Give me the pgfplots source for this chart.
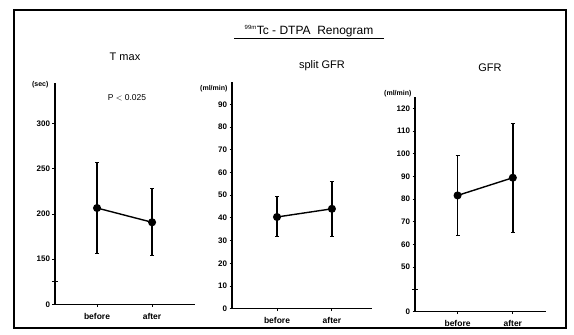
\documentclass[border=0pt]{standalone}
\usepackage{pgfplots}
\pgfplotsset{compat=1.18}
\usepackage{fontspec}
\setmainfont{Liberation Sans}
\pgfplotsset{
  panel/.style={
    scale only axis, anchor=south west, clip=false,
    /pgf/number format/assume math mode=true,
    axis lines=left, axis line style={-, line width=1.1pt},
    tick style={black, line width=0.9pt}, tick align=outside, major tick length=2.5pt,
    xtick={1,2}, xticklabels={before,after},
    xticklabel style={font=\fontsize{8.5}{10}\selectfont\bfseries, yshift=-3pt},
    yticklabel style={font=\fontsize{8}{9}\selectfont\bfseries, xshift=1pt},
    extra y tick style={tick align=center, major tick length=6pt, tick style={line width=1.2pt}},
  },
  series/.style={black, line width=1.4pt, mark=*, mark size=3.3pt,
    error bars/.cd, y dir=both, y explicit,
    error bar style={line width=1.8pt},
    error mark options={rotate=90, mark size=2pt, line width=1pt}},
}
\begin{document}
\begin{tikzpicture}
\useasboundingbox (0pt,0pt) rectangle (574pt,335pt);
\draw[line width=1.2pt] (14pt,7pt) -- (566pt,7pt) -- (566pt,325pt) -- (14pt,325pt) -- cycle;
\node[font=\fontsize{12}{14}\selectfont] at (309pt,304pt) {\textsuperscript{\fontsize{6}{7}\selectfont 99m}Tc - DTPA\ \ Renogram};
\draw[line width=0.9pt] (234pt,297pt) -- (384pt,297pt);
\node[font=\fontsize{11}{13}\selectfont] at (125pt,278pt) {T\ max};
\node[font=\fontsize{11}{13}\selectfont] at (322pt,269pt) {split GFR};
\node[font=\fontsize{11}{13}\selectfont] at (490pt,267pt) {GFR};
\node[font=\fontsize{8.5}{10}\selectfont] at (127pt,237pt) {P $<$ 0.025};
\node[font=\fontsize{7}{8}\selectfont\bfseries, anchor=east] at (52pt,250pt) {(sec)};
\node[font=\fontsize{7}{8}\selectfont\bfseries, anchor=east] at (231pt,246pt) {(ml/min)};
\node[font=\fontsize{7}{8}\selectfont\bfseries, anchor=east] at (415pt,241pt) {(ml/min)};

% T max
\begin{axis}[panel, at={(55pt,30.7pt)}, width=140pt, height=221.3pt,
  xmin=0.236, xmax=2.78, ymin=100, ymax=345,
  ytick={100,150,200,250,300}, yticklabels={0,150,200,250,300},
  extra y ticks={125}, extra y tick labels={}]
\addplot[series] table[x=x, y=y, y error plus=ep, y error minus=em] {
x y ep em
1 206.6 50.4 50.0
2 190.8 37.5 37.1
};
\end{axis}

% split GFR
\begin{axis}[panel, at={(232pt,26.3pt)}, width=140pt, height=227pt,
  xmin=0.18, xmax=2.73, ymin=0, ymax=100,
  ytick={0,10,...,90}]
\addplot[series] table[x=x, y=y, y error plus=ep, y error minus=em] {
x y ep em
1 40.4 8.9 8.7
2 44.0 11.9 12.0
};
\end{axis}

% GFR
\begin{axis}[panel, at={(415pt,23.3pt)}, width=131pt, height=214.8pt,
  xmin=0.23, xmax=2.6, ymin=30.4, ymax=125,
  ytick={30.4,50,60,70,80,90,100,110,120}, yticklabels={0,50,60,70,80,90,100,110,120},
  extra y ticks={40.3}, extra y tick labels={}]
\addplot[series] table[x=x, y=y, y error plus=ep, y error minus=em] {
x y ep em
1 81.6 17.4 17.5
2 89.4 24.0 24.2
};
\end{axis}
\end{tikzpicture}
\end{document}
